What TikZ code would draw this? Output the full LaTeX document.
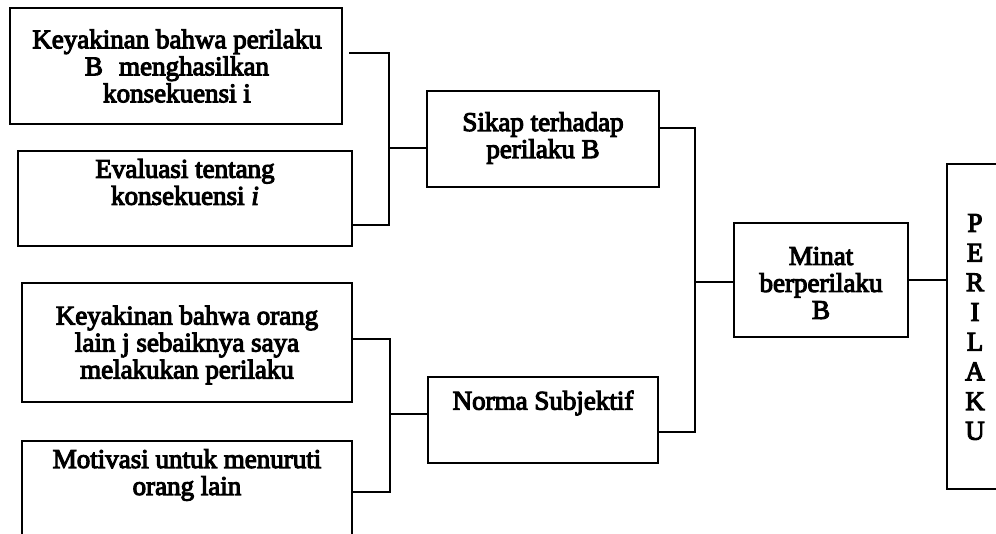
\documentclass[tikz,border=0pt]{standalone}
\usepackage{fontspec}
\setmainfont{Liberation Serif}[FakeBold=4]
\begin{document}
\begin{tikzpicture}[x=1pt,y=-1pt,
  box/.style={draw,line width=2.8pt,rectangle,inner sep=0pt},
  lbl/.style={align=center,inner sep=0pt,font=\fontsize{27}{27}\selectfont},
  wire/.style={line width=2.8pt,line join=miter}]
\useasboundingbox (0,0) rectangle (996,533);
\clip (0,0) rectangle (996,533);

% left column of beliefs and evaluations
\node[box,minimum width=332pt,minimum height=116pt] (b1) at (176,66) {};
\node[lbl] (b1t) at (177,66) {Keyakinan bahwa perilaku\\B\hspace{0.6em}menghasilkan\\konsekuensi i};
\node[box,minimum width=334pt,minimum height=95pt] (b2) at (185,198.5) {};
\node[lbl] (b2t) at (185,182) {Evaluasi tentang\\konsekuensi \textit{i}};
\node[box,minimum width=330pt,minimum height=119pt] (b3) at (187,342.5) {};
\node[lbl] (b3t) at (187,345) {Keyakinan bahwa orang\\lain j sebaiknya saya\\melakukan perilaku};
\node[box,minimum width=330pt,minimum height=104pt] (b4) at (187,493) {};
\node[lbl] (b4t) at (187,475) {Motivasi untuk menuruti\\orang lain};

% middle column
\node[box,minimum width=232pt,minimum height=96pt] (sk) at (543,139) {};
\node[lbl] (skt) at (543,138) {Sikap terhadap\\perilaku B};
\node[box,minimum width=230pt,minimum height=86pt] (nm) at (543,420) {};
\node[lbl] (nmt) at (543,403) {Norma Subjektif};

% intention and behaviour
\node[box,minimum width=174pt,minimum height=114pt] (mn) at (821,280) {};
\node[lbl] (mnt) at (821,283) {Minat\\berperilaku\\B};
\node[box,minimum width=63pt,minimum height=325pt] (pl) at (978.5,326.5) {};
\node[lbl,font=\fontsize{27}{29.7}\selectfont] (plt) at (975,327) {P\\E\\R\\I\\L\\A\\K\\U};

% junction points of the brackets
\coordinate (j1) at (389,148);
\coordinate (j2) at (390,414);
\coordinate (j3) at (695,282);

% brackets joining the boxes
\draw[wire] ([xshift=6pt]b1.east |- 0,53) -| (j1 |- 0,225) -- (b2.east |- 0,225);
\draw[wire] (j1) -- (sk.west |- j1);
\draw[wire] (b3.east |- 0,339) -| (j2 |- 0,492) -- (b4.east |- 0,492);
\draw[wire] (j2) -- (nm.west |- j2);
\draw[wire] (sk.east |- 0,128) -| (j3 |- 0,432) -- (nm.east |- 0,432);
\draw[wire] (j3) -- (mn.west |- j3);
\draw[wire] (mn.east) -- (pl.west |- mn.east);
\end{tikzpicture}
\end{document}
